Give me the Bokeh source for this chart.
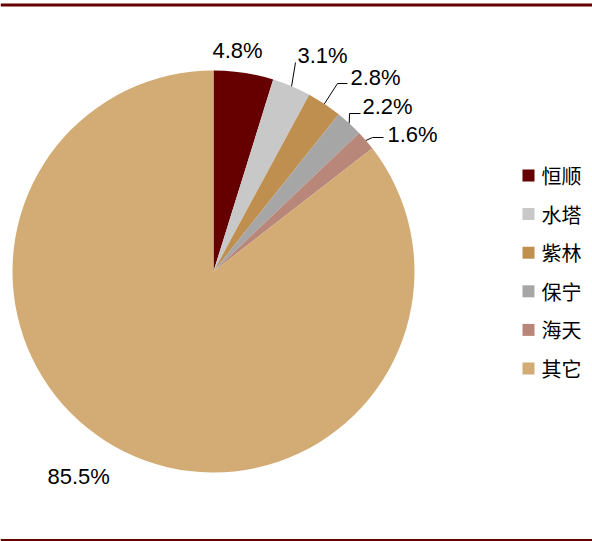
import numpy as np
from bokeh.plotting import figure
from bokeh.models import Range1d, ColumnDataSource
from bokeh.core.properties import value
from bokeh.embed import file_html
from bokeh.resources import INLINE

categories = ["恒顺", "水塔", "紫林", "保宁", "海天", "其它"]
shares = [4.8, 3.1, 2.8, 2.2, 1.6, 85.5]
labels = ["4.8%", "3.1%", "2.8%", "2.2%", "1.6%", "85.5%"]
colors = ["#660000", "#C8C8C8", "#BF8F4F", "#A6A6A6", "#B8877A", "#D3AB74"]

W, H = 592, 541
p = figure(width=W, height=H, output_backend="svg", toolbar_location=None,
           x_range=Range1d(0, W), y_range=Range1d(0, H), min_border=0)
p.axis.visible = False
p.grid.visible = False
p.outline_line_color = None
p.background_fill_color = "white"

def fy(py):
    return H - py

cx, cy, R = 213, fy(271), 201
vals = np.array(shares, dtype=float)
frac = vals / vals.sum()
cum = np.concatenate([[0], np.cumsum(frac)])
start = np.pi / 2 - 2 * np.pi * cum[:-1]
end = np.pi / 2 - 2 * np.pi * cum[1:]
mid = (start + end) / 2

src = ColumnDataSource(dict(start=start, end=end, color=colors))
p.wedge(x=cx, y=cy, radius=R, start_angle="start", end_angle="end",
        direction="clock", fill_color="color", line_color=None, source=src)

# leader lines for small slices (index 1..4)
elbows = {1: [(295, 62)], 2: [(337, 83), (347, 83)], 3: [(349, 113), (360, 113)], 4: [(372, 137), (383, 137)]}
for i, pts in elbows.items():
    xs = [cx + R * np.cos(mid[i])] + [a for a, b in pts]
    ys = [cy + R * np.sin(mid[i])] + [fy(b) for a, b in pts]
    p.line(xs, ys, line_color="black", line_width=1)

# value labels
lab_pos = [(212, 50), (297, 55), (350, 77), (362, 106), (387, 133.5), (47, 476)]
p.text(x=[a for a, b in lab_pos], y=[fy(b) for a, b in lab_pos], text=labels,
       text_font=value("Liberation Sans"), text_font_size="22px",
       text_align="left", text_baseline="middle", text_color="black")

# legend
leg_y = [fy(175 + 38.6 * i) for i in range(len(categories))]
p.rect(x=[528] * len(categories), y=leg_y, width=12, height=12,
       fill_color=colors, line_color=None)
p.text(x=[541] * len(categories), y=leg_y, text=categories,
       text_font=value("Noto Sans CJK SC"), text_font_size="20px",
       text_align="left", text_baseline="middle", text_color="black")

# top & bottom rules
p.line([0, W], [fy(4.5), fy(4.5)], line_color="#660000", line_width=3)
p.line([0, W], [fy(540), fy(540)], line_color="#660000", line_width=3)

open("out.html", "w").write(file_html(p, INLINE))
